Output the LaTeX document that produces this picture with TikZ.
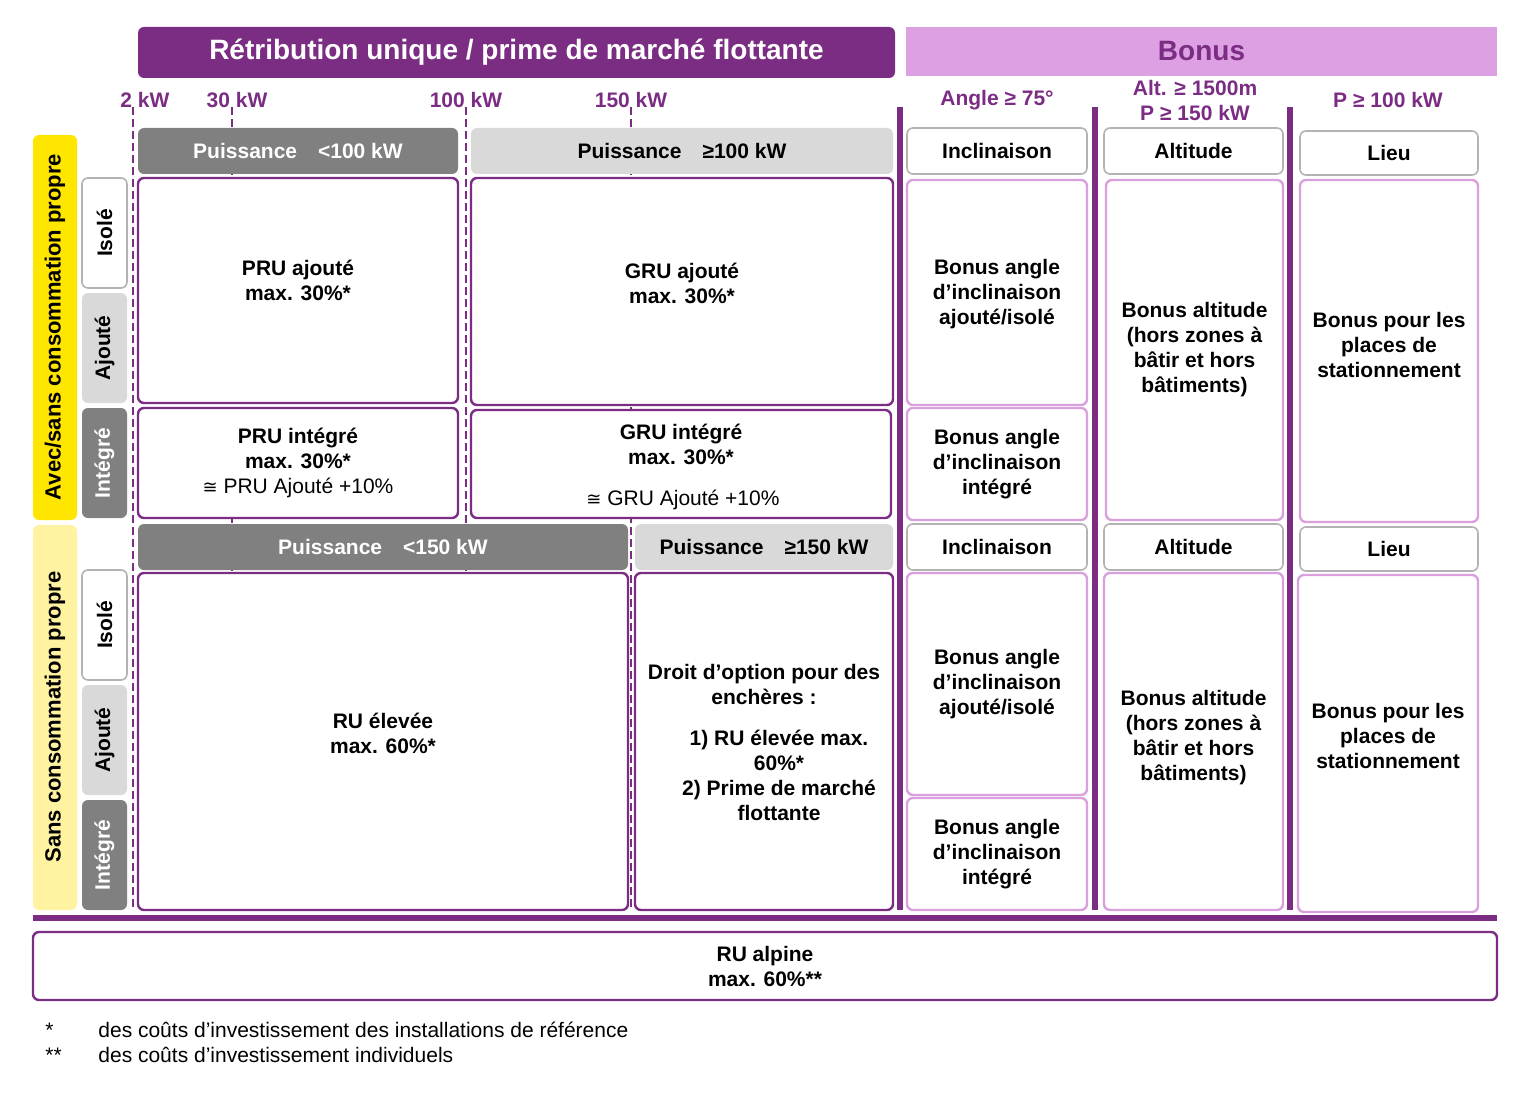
\documentclass[tikz,border=0pt]{standalone}
\usepackage{fontspec}
\setmainfont{Liberation Sans}
\newfontfamily\djv{DejaVu Sans}
\begin{document}
\begin{tikzpicture}[x=0.5pt,y=-0.5pt,
 every node/.style={inner sep=0pt,align=center,font=\fontsize{10.5}{12.5}\selectfont\bfseries},
 box/.style={draw=dp,line width=1.2pt,rounded corners=3pt},
 lbox/.style={draw=lp,line width=1.2pt,rounded corners=3pt},
 gbox/.style={draw=gr!60,line width=0.8pt,rounded corners=3pt},
 dg/.style={fill=gr,rounded corners=3pt},
 lg/.style={fill=lgr,rounded corners=3pt},
 kwdash/.style={draw=dp,line width=1.2pt,dash pattern=on 4pt off 2pt},
 vbar/.style={draw=dp,line width=3pt},
 lab/.style={text=dp}]
\definecolor{dp}{HTML}{7B2C83}
\definecolor{lp}{HTML}{D9A0DD}
\definecolor{hp}{HTML}{DDA0E2}
\definecolor{gr}{HTML}{808080}
\definecolor{lgr}{HTML}{D9D9D9}
\definecolor{ye}{HTML}{FFE600}
\definecolor{lye}{HTML}{FFF2A0}
\useasboundingbox (0,0) rectangle (1524,1107);
% headers
\fill[dp,rounded corners=3pt] (138,27) rectangle (895,78) node[midway,text=white,font=\fontsize{14}{16}\selectfont\bfseries] (h1) {Rétribution unique / prime de marché flottante};
\fill[hp] (906,27) rectangle (1497,76) node[midway,text=dp,font=\fontsize{14}{16}\selectfont\bfseries] (h2) {Bonus};
% kW labels
\node[lab] (k2) at (145,100) {2 kW};
\node[lab] (k30) at (237,100) {30 kW};
\node[lab] (k100) at (466,100) {100 kW};
\node[lab] (k150) at (631,100) {150 kW};
\node[lab] (la) at (997,100) {Angle ≥ 75°};
\node[lab] (lb) at (1195,100) {Alt. ≥ 1500m\\P ≥ 150 kW};
\node[lab] (lc) at (1388,100) {P ≥ 100 kW};
% dashed lines
\foreach \x in {133,232,466,631} \draw[kwdash] (\x,107) -- (\x,910);
\foreach \x in {900,1095,1290} \draw[vbar] (\x,107) -- (\x,910);
% left bars
\fill[ye,rounded corners=3pt] (33,135) rectangle (77,520);
\node[rotate=90,font=\fontsize{11}{13}\selectfont\bfseries] (ya) at (55,327) {Avec/sans consommation propre};
\fill[lye,rounded corners=3pt] (33,525) rectangle (77,910);
\node[rotate=90,font=\fontsize{11}{13}\selectfont\bfseries] (yb) at (55,717) {Sans consommation propre};
\foreach \y in {178,570}{
 \fill[white,rounded corners=3pt] (82,\y) rectangle ++(45,110);
 \draw[gbox] (82,\y) rectangle ++(45,110);
 \node[rotate=90] at (104.5,\y+55) {Isolé};
 \fill[lgr,rounded corners=3pt] (82,\y+115) rectangle ++(45,110);
 \node[rotate=90] at (104.5,\y+170) {Ajouté};
 \fill[gr,rounded corners=3pt] (82,\y+230) rectangle ++(45,110);
 \node[rotate=90,text=white] at (104.5,\y+285) {Intégré};
}
% puissance headers
\fill[dg] (138,128) rectangle (458,174) node[midway,text=white] (p1) {Puissance\quad <100 kW};
\fill[lg] (471,128) rectangle (893,174) node[midway] (p2) {Puissance\quad ≥100 kW};
\fill[dg] (138,524) rectangle (628,570) node[midway,text=white] (p3) {Puissance\quad <150 kW};
\fill[lg] (635,524) rectangle (893,570) node[midway] (p4) {Puissance\quad ≥150 kW};
% main boxes
\filldraw[box,fill=white] (138,178) rectangle (458,403) node[midway,yshift=5] (b1) {PRU ajouté\\max. 30\%*};
\filldraw[box,fill=white] (471,178) rectangle (893,405) node[midway,yshift=4] (b2) {GRU ajouté\\max. 30\%*};
\filldraw[box,fill=white] (138,408) rectangle (458,518);
\node (b3) at (298,463) {PRU intégré\\max. 30\%*\\\mdseries{\djv\small ≅} PRU Ajouté +10\%};
\filldraw[box,fill=white] (471,410) rectangle (891,518);
\node (b4) at (681,444) {GRU intégré\\max. 30\%*};
\node[font=\fontsize{10.5}{12.5}\selectfont] (b4b) at (683,500) {{\djv\small ≅} GRU Ajouté +10\%};
\filldraw[box,fill=white] (138,573) rectangle (628,910) node[midway,yshift=4] (b5) {RU élevée\\max. 60\%*};
\filldraw[box,fill=white] (635,573) rectangle (893,910);
\node (b6) at (764,684) {Droit d’option pour des\\enchères :};
\node (b6b) at (779,775) {1) RU élevée max.\\60\%*\\2) Prime de marché\\flottante};
% bonus headers
\foreach \y in {128,524}{
 \draw[gbox] (907,\y) rectangle (1087,\y+46) node[midway] {Inclinaison};
 \draw[gbox] (1104,\y) rectangle (1283,\y+46) node[midway] {Altitude};
 \draw[gbox] (1300,\y+3) rectangle (1478,\y+47) node[midway] {Lieu};
}
\draw[lbox] (907,180) rectangle (1087,405) node[midway,yshift=-1] (c1) {Bonus angle\\d’inclinaison\\ajouté/isolé};
\draw[lbox] (907,408) rectangle (1087,520) node[midway] (c2) {Bonus angle\\d’inclinaison\\intégré};
\draw[lbox] (1106,180) rectangle (1283,520) node[midway,yshift=0] (c3) {Bonus altitude\\(hors zones à\\bâtir et hors\\bâtiments)};
\draw[lbox] (1300,180) rectangle (1478,522) node[midway,yshift=3] (c4) {Bonus pour les\\places de\\stationnement};
\draw[lbox] (907,573) rectangle (1087,795) node[midway] (c5) {Bonus angle\\d’inclinaison\\ajouté/isolé};
\draw[lbox] (907,798) rectangle (1087,910) node[midway] (c6) {Bonus angle\\d’inclinaison\\intégré};
\draw[lbox] (1104,573) rectangle (1283,910) node[midway,yshift=2] (c7) {Bonus altitude\\(hors zones à\\bâtir et hors\\bâtiments)};
\draw[lbox] (1298,575) rectangle (1478,912) node[midway,yshift=4] (c8) {Bonus pour les\\places de\\stationnement};
% bottom
\draw[dp,line width=3pt] (33,918) -- (1497,918);
\draw[box] (33,932) rectangle (1497,1000) node[midway] (ra) {RU alpine\\max. 60\%**};
\node[font=\fontsize{10.5}{12.5}\selectfont,anchor=west] (f1) at (45,1030) {*};
\node[font=\fontsize{10.5}{12.5}\selectfont,anchor=west] (f1t) at (98,1030) {des coûts d’investissement des installations de référence};
\node[font=\fontsize{10.5}{12.5}\selectfont,anchor=west] (f2) at (45,1055) {**};
\node[font=\fontsize{10.5}{12.5}\selectfont,anchor=west] (f2t) at (98,1055) {des coûts d’investissement individuels};
\end{tikzpicture}
\end{document}
